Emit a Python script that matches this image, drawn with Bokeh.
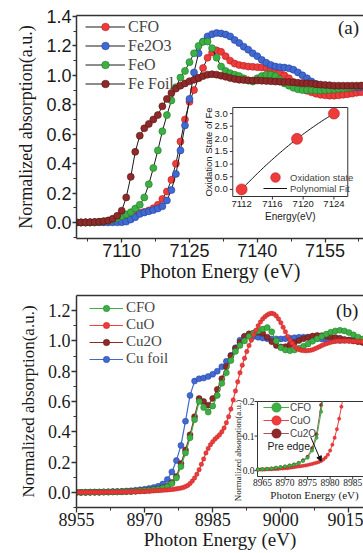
import math
import numpy as np
from bokeh.plotting import figure
from bokeh.layouts import column
from bokeh.core.properties import value
from bokeh.models import (FixedTicker, Range1d, Legend, LegendItem, LinearAxis,
                          Label, Arrow, NormalHead, PrintfTickFormatter)
from bokeh.embed import file_html
from bokeh.resources import INLINE

SERIF = "Liberation Serif"
SANS = "Liberation Sans"

# ---------------- Panel (a): Fe K-edge (1 eV grid from 7100 eV) ----------------
fe_start = 7100
fe_cfo = [0.000, 0.000, 0.000, 0.000, 0.001, 0.002, 0.003, 0.004, 0.006, 0.010,
          0.015, 0.022, 0.035, 0.055, 0.065, 0.072, 0.082, 0.097, 0.120, 0.160,
          0.210, 0.290, 0.400, 0.550, 0.700, 0.820, 0.900, 0.980, 1.050, 1.120,
          1.155, 1.170, 1.160, 1.130, 1.100, 1.080, 1.070, 1.065, 1.060, 1.058,
          1.056, 1.054, 1.050, 1.045, 1.035, 1.020, 1.000, 0.980, 0.955, 0.930,
          0.910, 0.895, 0.885, 0.875, 0.868, 0.864, 0.862, 0.862, 0.864, 0.868,
          0.872, 0.876, 0.882, 0.886]
fe_fe2o3 = [0.000, 0.000, 0.000, 0.000, 0.000, 0.001, 0.001, 0.001, 0.001, 0.001,
            0.002, 0.006, 0.020, 0.036, 0.058, 0.068, 0.076, 0.084, 0.095, 0.110,
            0.150, 0.220, 0.330, 0.490, 0.660, 0.840, 1.020, 1.150, 1.230, 1.265,
            1.280, 1.288, 1.285, 1.278, 1.265, 1.240, 1.220, 1.195, 1.175, 1.150,
            1.130, 1.105, 1.085, 1.070, 1.060, 1.056, 1.053, 1.048, 1.038, 1.020,
            1.000, 0.980, 0.958, 0.942, 0.932, 0.925, 0.920, 0.917, 0.915, 0.915,
            0.916, 0.917, 0.918, 0.920]
fe_feo = [0.000, 0.000, 0.000, 0.001, 0.002, 0.004, 0.008, 0.013, 0.020, 0.030,
          0.042, 0.055, 0.070, 0.095, 0.120, 0.170, 0.260, 0.370, 0.490, 0.620,
          0.730, 0.830, 0.920, 0.985, 1.030, 1.090, 1.150, 1.200, 1.228, 1.230,
          1.185, 1.120, 1.060, 1.030, 1.015, 1.005, 0.995, 0.980, 0.965, 0.958,
          0.980, 0.995, 1.005, 1.005, 0.995, 0.970, 0.945, 0.930, 0.915, 0.905,
          0.900, 0.900, 0.900, 0.898, 0.898, 0.900, 0.902, 0.905, 0.908, 0.910,
          0.915, 0.920, 0.925, 0.930]
fe_foil = [0.000, 0.000, 0.001, 0.002, 0.003, 0.005, 0.008, 0.013, 0.025, 0.045,
           0.080, 0.170, 0.310, 0.480, 0.590, 0.640, 0.670, 0.700, 0.730, 0.790,
           0.840, 0.880, 0.910, 0.930, 0.945, 0.960, 0.970, 0.983, 0.995, 1.005,
           1.008, 1.005, 0.998, 0.990, 0.982, 0.975, 0.970, 0.968, 0.966, 0.965,
           0.965, 0.963, 0.962, 0.960, 0.958, 0.957, 0.955, 0.955, 0.952, 0.950,
           0.948, 0.946, 0.944, 0.940, 0.937, 0.935, 0.933, 0.930, 0.930, 0.930,
           0.930, 0.930, 0.930, 0.930]
fe_names = ["CFO", "Fe2O3", "FeO", "Fe Foil"]
fe_x_ticks = [7110, 7125, 7140, 7155]
fe_x_minor = [7102.5, 7117.5, 7132.5, 7147.5, 7162.5]
fe_y_ticks = [0.0, 0.2, 0.4, 0.6, 0.8, 1.0, 1.2, 1.4]
fe_y_minor = [-0.1, 0.1, 0.3, 0.5, 0.7, 0.9, 1.1, 1.3]

# inset (a): oxidation state vs edge energy
ox_energy = [7112.0, 7119.2, 7124.0]
ox_state = [0.0, 2.0, 3.0]
ox_x_ticks = [7112, 7116, 7120, 7124]
ox_y_ticks = [0.0, 0.5, 1.0, 1.5, 2.0, 2.5, 3.0]
ox_xlim = (7110.85, 7125.8)
ox_ylim = (-0.28, 3.24)

# ---------------- Panel (b): Cu K-edge (1 eV grid from 8955 eV) ----------------
cu_start = 8955
cu_cfo = [0.000, 0.000, 0.000, 0.001, 0.001, 0.001, 0.002, 0.002, 0.003, 0.003,
          0.004, 0.005, 0.006, 0.008, 0.010, 0.012, 0.014, 0.017, 0.021, 0.028,
          0.037, 0.058, 0.095, 0.170, 0.260, 0.360, 0.480, 0.600, 0.560, 0.530,
          0.570, 0.640, 0.720, 0.790, 0.870, 0.930, 0.970, 1.000, 1.030, 1.050,
          1.065, 1.078, 1.088, 1.060, 1.000, 0.955, 0.940, 0.935, 0.940, 0.952,
          0.965, 0.980, 0.998, 1.015, 1.030, 1.045, 1.058, 1.066, 1.070, 1.066,
          1.055, 1.040, 1.025, 1.012]
cu_cu2o = [0.000, 0.000, 0.000, 0.001, 0.001, 0.001, 0.002, 0.002, 0.003, 0.003,
           0.004, 0.005, 0.006, 0.008, 0.010, 0.012, 0.015, 0.018, 0.022, 0.030,
           0.040, 0.065, 0.105, 0.190, 0.280, 0.380, 0.500, 0.620, 0.600, 0.575,
           0.620, 0.680, 0.750, 0.830, 0.900, 0.950, 0.990, 1.030, 1.047, 1.052,
           1.057, 1.050, 1.025, 0.995, 0.970, 0.960, 0.962, 0.975, 0.990, 1.003,
           1.015, 1.025, 1.032, 1.036, 1.035, 1.031, 1.027, 1.022, 1.017, 1.010,
           1.005, 1.000, 0.995, 0.990]
cu_foil = [0.000, 0.000, 0.001, 0.001, 0.002, 0.002, 0.003, 0.004, 0.005, 0.006,
           0.007, 0.009, 0.011, 0.014, 0.017, 0.021, 0.026, 0.032, 0.040, 0.055,
           0.085, 0.135, 0.210, 0.310, 0.470, 0.640, 0.735, 0.750, 0.755, 0.765,
           0.780, 0.800, 0.830, 0.865, 0.905, 0.955, 1.005, 1.030, 1.035, 1.030,
           1.024, 1.019, 1.015, 1.013, 1.013, 1.013, 1.015, 1.018, 1.021, 1.024,
           1.025, 1.023, 1.020, 1.016, 1.013, 1.009, 1.006, 1.004, 1.003, 1.004,
           1.006, 1.008, 1.010, 1.010]
# CuO measured on a 0.5 eV grid from 8955 eV
cuo_step = 0.5
cu_cuo = [0.000, 0.000, 0.000, 0.000, 0.000, 0.000, 0.000, 0.001, 0.001, 0.001,
          0.001, 0.001, 0.001, 0.002, 0.002, 0.002, 0.002, 0.002, 0.003, 0.003,
          0.003, 0.003, 0.004, 0.004, 0.004, 0.005, 0.005, 0.005, 0.006, 0.006,
          0.007, 0.007, 0.008, 0.009, 0.010, 0.011, 0.012, 0.013, 0.014, 0.015,
          0.016, 0.018, 0.019, 0.021, 0.023, 0.025, 0.028, 0.032, 0.038, 0.046,
          0.058, 0.075, 0.095, 0.120, 0.150, 0.185, 0.220, 0.260, 0.290, 0.315,
          0.335, 0.352, 0.366, 0.380, 0.400, 0.425, 0.460, 0.500, 0.550, 0.610,
          0.670, 0.730, 0.790, 0.840, 0.885, 0.930, 0.970, 1.005, 1.040, 1.070,
          1.100, 1.125, 1.145, 1.160, 1.172, 1.180, 1.182, 1.178, 1.165, 1.145,
          1.120, 1.090, 1.060, 1.030, 1.005, 0.985, 0.965, 0.952, 0.943, 0.938,
          0.936, 0.935, 0.936, 0.938, 0.942, 0.948, 0.955, 0.962, 0.969, 0.976,
          0.982, 0.987, 0.991, 0.995, 0.998, 1.000, 1.000, 1.000, 1.000, 1.000,
          0.999, 0.998, 0.998, 0.997, 0.997, 0.997, 0.996]
cu_x_ticks = [8955, 8970, 8985, 9000, 9015]
cu_x_minor = [8962.5, 8977.5, 8992.5, 9007.5]
cu_y_ticks = [0.0, 0.2, 0.4, 0.6, 0.8, 1.0, 1.2]
cu_y_minor = [-0.1, 0.1, 0.3, 0.5, 0.7, 0.9, 1.1]
ins_x_ticks = [8965, 8970, 8975, 8980, 8985]
ins_y_ticks = [0.0, 0.1, 0.2]
ins_xlim = (8963.9, 8987.4)
ins_ylim = (-0.017, 0.2)

fe_x = [fe_start + i for i in range(len(fe_cfo))]
cu_x = [cu_start + i for i in range(len(cu_cfo))]
cuo_x = [cu_start + cuo_step * i for i in range(len(cu_cuo))]

# ---------------- layout (page pixels: left, right, top, bottom) ----------------
A_FRAME = (71, 363, 15, 238)
A_INSET = (230, 347, 107, 196)
B_FRAME = (76, 363, 295, 507)
B_INSET = (257, 363, 401, 476)

RED, RED_E = "#EE3B3B", "#B32020"
BLUE, BLUE_E = "#4169D2", "#22409A"
GREEN, GREEN_E = "#3DB043", "#1F7A29"
DRED, DRED_E = "#8E2A2A", "#5A1212"
AX = "#333333"
TXT = "#1a1a1a"


def inset_ranges(xlim, ylim, frame, inset):
    fl, fr, ft, fb = frame
    il, ir, it, ib_ = inset
    ux = (xlim[1] - xlim[0]) / (ir - il)
    uy = (ylim[1] - ylim[0]) / (ib_ - it)
    xr = Range1d(xlim[0] - (il - fl) * ux, xlim[0] + (fr - il) * ux)
    yr = Range1d(ylim[0] - (fb - ib_) * uy, ylim[0] + (ib_ - ft) * uy)
    return xr, yr, ux, uy


def clip_polyline(xs, ys, x0, x1, y0, y1):
    pieces_x, pieces_y = [], []
    cx, cy = [], []
    for i in range(len(xs) - 1):
        ax_, ay_, bx_, by_ = xs[i], ys[i], xs[i + 1], ys[i + 1]
        dx, dy = bx_ - ax_, by_ - ay_
        t0, t1, ok = 0.0, 1.0, True
        for p, q in ((-dx, ax_ - x0), (dx, x1 - ax_), (-dy, ay_ - y0), (dy, y1 - ay_)):
            if p == 0:
                if q < 0:
                    ok = False
                    break
            else:
                r = q / p
                if p < 0:
                    if r > t1:
                        ok = False
                        break
                    t0 = max(t0, r)
                else:
                    if r < t0:
                        ok = False
                        break
                    t1 = min(t1, r)
        if not ok:
            if cx:
                pieces_x.append(cx)
                pieces_y.append(cy)
                cx, cy = [], []
            continue
        sx, sy = ax_ + t0 * dx, ay_ + t0 * dy
        ex, ey = ax_ + t1 * dx, ay_ + t1 * dy
        if not cx or abs(cx[-1] - sx) > 1e-9 or abs(cy[-1] - sy) > 1e-9:
            if cx:
                pieces_x.append(cx)
                pieces_y.append(cy)
            cx, cy = [sx], [sy]
        cx.append(ex)
        cy.append(ey)
        if t1 < 1.0:
            pieces_x.append(cx)
            pieces_y.append(cy)
            cx, cy = [], []
    if cx:
        pieces_x.append(cx)
        pieces_y.append(cy)
    return pieces_x, pieces_y


def inside(xs, ys, x0, x1, y0, y1):
    pts = [(x, y) for x, y in zip(xs, ys) if x0 <= x <= x1 and y0 <= y <= y1]
    return [p[0] for p in pts], [p[1] for p in pts]


def style_axis(ax, ticks, minor, font, size, fmt, tick_out=5, minor_out=3, standoff=1):
    ax.ticker = FixedTicker(ticks=ticks, minor_ticks=minor)
    ax.formatter = PrintfTickFormatter(format=fmt)
    ax.axis_line_color = AX
    ax.axis_line_width = 1.5
    ax.major_tick_line_color = AX
    ax.major_tick_line_width = 1.3
    ax.minor_tick_line_color = AX
    ax.minor_tick_line_width = 1.0
    ax.major_tick_in = 0
    ax.major_tick_out = tick_out
    ax.minor_tick_in = 0
    ax.minor_tick_out = minor_out
    ax.major_label_text_font = font
    ax.major_label_text_font_size = size
    ax.major_label_text_color = TXT
    ax.major_label_standoff = standoff


def style_label(ax, text, font, size, standoff):
    ax.axis_label = text
    ax.axis_label_text_font = font
    ax.axis_label_text_font_size = size
    ax.axis_label_text_font_style = "normal"
    ax.axis_label_text_color = TXT
    ax.axis_label_standoff = standoff


def top_line(p):
    top = LinearAxis(major_tick_out=0, major_tick_in=0, minor_tick_out=0, minor_tick_in=0,
                     major_label_text_font_size="0px", major_label_standoff=0,
                     axis_line_color=AX, axis_line_width=1.5)
    top.ticker = FixedTicker(ticks=[])
    p.add_layout(top, "above")


def single_legend(label, renderers, loc, gw, gh, font, size, standoff=3):
    return Legend(items=[LegendItem(label=label, renderers=renderers)], location=loc,
                  padding=0, spacing=0, glyph_width=gw, glyph_height=gh, label_height=gh,
                  label_standoff=standoff, label_text_font=font, label_text_font_size=size,
                  border_line_color=None, background_fill_alpha=0)


def draw_inset_axes(p, xn, yn, xlim, ylim, ux, uy, xticks, yticks, xfmt, yfmt, font, size,
                    x_lab_off, y_lab_off, y_lab_align="right"):
    p.quad(left=[xlim[0]], right=[xlim[1]], bottom=[ylim[0]], top=[ylim[1]],
           fill_color="white", line_color=AX, line_width=1, x_range_name=xn, y_range_name=yn)
    tick = 3
    p.segment(x0=xticks, y0=[ylim[0]] * len(xticks), x1=xticks, y1=[ylim[0] - tick * uy] * len(xticks),
              line_color=AX, line_width=1, x_range_name=xn, y_range_name=yn)
    p.segment(x0=[xlim[0]] * len(yticks), y0=yticks, x1=[xlim[0] - tick * ux] * len(yticks), y1=yticks,
              line_color=AX, line_width=1, x_range_name=xn, y_range_name=yn)
    p.text(x=xticks, y=[ylim[0]] * len(xticks), text=[xfmt % t for t in xticks],
           y_offset=x_lab_off, text_align="center", text_baseline="middle",
           text_font=value(font), text_font_size=value(size), text_color=TXT,
           x_range_name=xn, y_range_name=yn)
    p.text(x=[xlim[0]] * len(yticks), y=yticks, text=[yfmt % t for t in yticks],
           x_offset=y_lab_off, text_align=y_lab_align, text_baseline="middle",
           text_font=value(font), text_font_size=value(size), text_color=TXT,
           x_range_name=xn, y_range_name=yn)


# ================= Figure (a) =================
pa = figure(width=363, height=288, x_range=Range1d(7100, 7163.5), y_range=Range1d(-0.109, 1.407),
            output_backend="svg", toolbar_location=None,
            min_border_left=A_FRAME[0], min_border_right=0, min_border_top=A_FRAME[2],
            min_border_bottom=50)
pa.xgrid.visible = False
pa.ygrid.visible = False
pa.outline_line_color = None
style_axis(pa.xaxis[0], fe_x_ticks, fe_x_minor, SANS, "18px", "%d", tick_out=4, standoff=1)
style_axis(pa.yaxis[0], fe_y_ticks, fe_y_minor, SANS, "18px", "%.1f", tick_out=4, standoff=1)
style_label(pa.xaxis[0], "Photon Energy (eV)", SERIF, "20px", 0)
style_label(pa.yaxis[0], "Normalized absorption(a.u.)", SERIF, "18px", 7)
top_line(pa)

fe_series = [(fe_cfo, RED, RED_E), (fe_fe2o3, BLUE, BLUE_E), (fe_feo, GREEN, GREEN_E), (fe_foil, DRED, DRED_E)]
items_a = []
for name, (vals, c, ce) in zip(fe_names, fe_series):
    ln = pa.line(fe_x, vals, line_color=TXT, line_width=1)
    sc = pa.scatter(fe_x, vals, size=7, fill_color=c, line_color=ce, line_width=0.6)
    items_a.append(LegendItem(label=name, renderers=[ln, sc]))
pa.add_layout(Legend(items=items_a, location=(9, 145), padding=0, spacing=0, glyph_width=40,
                     glyph_height=19, label_height=19, label_standoff=3, label_text_font=SERIF,
                     label_text_font_size="16px", border_line_color=None, background_fill_alpha=0))
pa.add_layout(Label(x=7160.2, y=1.327, text="(a)", text_font=SERIF, text_font_size="19px",
                    text_align="center", text_baseline="middle", text_color=TXT))

# ---- inset (a), drawn in its own ranges inside the same frame ----
ia_xr, ia_yr, ia_ux, ia_uy = inset_ranges(ox_xlim, ox_ylim, A_FRAME, A_INSET)
pa.extra_x_ranges = {"ia_x": ia_xr}
pa.extra_y_ranges = {"ia_y": ia_yr}
draw_inset_axes(pa, "ia_x", "ia_y", ox_xlim, ox_ylim, ia_ux, ia_uy, ox_x_ticks, ox_y_ticks,
                "%d", "%.1f", SANS, "9.5px", 7, -5)
pa.text(x=[(ox_xlim[0] + ox_xlim[1]) / 2], y=[ox_ylim[0]], text=["Energy(eV)"], y_offset=20,
        text_align="center", text_baseline="middle", text_font=value(SANS), text_font_size=value("10px"),
        text_color=TXT, x_range_name="ia_x", y_range_name="ia_y")
pa.text(x=[ox_xlim[0]], y=[(ox_ylim[0] + ox_ylim[1]) / 2], text=["Oxidation State of Fe"], x_offset=-24,
        angle=math.pi / 2, text_align="center", text_baseline="middle", text_font=value(SANS),
        text_font_size=value("9.5px"), text_color=TXT, x_range_name="ia_x", y_range_name="ia_y")
coef = np.polyfit(ox_energy, ox_state, 2)
fit_x = np.linspace(min(ox_energy), max(ox_energy), 60)
fit_ln = pa.line(fit_x, np.polyval(coef, fit_x), line_color="#111111", line_width=1,
                 x_range_name="ia_x", y_range_name="ia_y")
ox_sc = pa.scatter(ox_energy, ox_state, size=11, fill_color=RED, line_color=RED_E, line_width=0.6,
                   x_range_name="ia_x", y_range_name="ia_y")
pa.add_layout(single_legend("Oxidation state", [ox_sc], (187, 49), 24, 24, SANS, "9.5px"))
pa.add_layout(single_legend("Polynomial Fit", [fit_ln], (187, 38), 24, 24, SANS, "9.5px"))

# ================= Figure (b) =================
pb = figure(width=363, height=265, x_range=Range1d(8955, 9018.2), y_range=Range1d(-0.1, 1.3),
            output_backend="svg", toolbar_location=None,
            min_border_left=B_FRAME[0], min_border_right=0, min_border_top=7, min_border_bottom=46)
pb.xgrid.visible = False
pb.ygrid.visible = False
pb.outline_line_color = None
style_axis(pb.xaxis[0], cu_x_ticks, cu_x_minor, SERIF, "18px", "%d", tick_out=5, standoff=0)
style_axis(pb.yaxis[0], cu_y_ticks, cu_y_minor, SERIF, "18px", "%.1f", tick_out=5, standoff=1)
style_label(pb.xaxis[0], "Photon Energy (eV)", SERIF, "19px", 0)
style_label(pb.yaxis[0], "Normalized absorption(a.u.)", SERIF, "17px", 7)
top_line(pb)

l_foil = pb.line(cu_x, cu_foil, line_color="#3D68D0", line_width=1.2)
s_foil = pb.scatter(cu_x, cu_foil, size=6, fill_color=BLUE, line_color=BLUE_E, line_width=0.5)
l_cu2o = pb.line(cu_x, cu_cu2o, line_color=DRED, line_width=1.2)
s_cu2o = pb.scatter(cu_x, cu_cu2o, size=6, fill_color=DRED, line_color=DRED_E, line_width=0.5)
l_cfo = pb.line(cu_x, cu_cfo, line_color=GREEN, line_width=1.2)
s_cfo = pb.scatter(cu_x, cu_cfo, size=6, fill_color=GREEN, line_color=GREEN_E, line_width=0.5)
l_cuo = pb.line(cuo_x, cu_cuo, line_color="#F04040", line_width=1.2)
s_cuo = pb.scatter(cuo_x, cu_cuo, size=4.5, fill_color=RED, line_color=RED_E, line_width=0.4)
pb.add_layout(Legend(items=[LegendItem(label="CFO", renderers=[l_cfo, s_cfo]),
                            LegendItem(label="CuO", renderers=[l_cuo, s_cuo]),
                            LegendItem(label="Cu2O", renderers=[l_cu2o, s_cu2o]),
                            LegendItem(label="Cu foil", renderers=[l_foil, s_foil])],
                     location=(13, 140), padding=0, spacing=0, glyph_width=34, glyph_height=16,
                     label_height=16, label_standoff=3, label_text_font=SERIF,
                     label_text_font_size="15px", border_line_color=None, background_fill_alpha=0))
pb.add_layout(Label(x=9014.6, y=1.2, text="(b)", text_font=SERIF, text_font_size="19px",
                    text_align="center", text_baseline="middle", text_color=TXT))

# ---- inset (b): pre-edge region ----
ib_xr, ib_yr, ib_ux, ib_uy = inset_ranges(ins_xlim, ins_ylim, B_FRAME, B_INSET)
pb.extra_x_ranges = {"ib_x": ib_xr}
pb.extra_y_ranges = {"ib_y": ib_yr}
draw_inset_axes(pb, "ib_x", "ib_y", ins_xlim, ins_ylim, ib_ux, ib_uy, ins_x_ticks, ins_y_ticks,
                "%d", "%.1f", SERIF, "9.5px", 6, -3)
pb.text(x=[ins_xlim[0]], y=[ins_ylim[0]], text=["Photon Energy (eV)"], x_offset=57, y_offset=18,
        text_align="center", text_baseline="middle", text_font=value(SERIF), text_font_size=value("11px"),
        text_color=TXT, x_range_name="ib_x", y_range_name="ib_y")
pb.text(x=[ins_xlim[0]], y=[ins_ylim[0]], text=["Normalized absorption(a.u.)"], x_offset=-20, y_offset=-26,
        angle=math.pi / 2, text_align="center", text_baseline="middle", text_font=value(SERIF),
        text_font_size=value("9px"), text_color=TXT, x_range_name="ib_x", y_range_name="ib_y")
box = (ins_xlim[0], ins_xlim[1], ins_ylim[0], ins_ylim[1])
inset_series = [(cuo_x, cu_cuo, "#F04040", RED, RED_E, 1.0),
                (cu_x, cu_cu2o, DRED, DRED, DRED_E, 0.8),
                (cu_x, cu_cfo, GREEN, GREEN, GREEN_E, 1.0)]
inset_r = []
for xs, ys, lc, fc, ec, lw in inset_series:
    mx, my = clip_polyline(xs, ys, *box)
    r_l = pb.multi_line(mx, my, line_color=lc, line_width=lw, x_range_name="ib_x", y_range_name="ib_y")
    px, py = inside(xs, ys, *box)
    r_s = pb.scatter(px, py, size=3.5, fill_color=fc, line_color=ec, line_width=0.3,
                     x_range_name="ib_x", y_range_name="ib_y")
    inset_r.append([r_l, r_s])
pb.add_layout(single_legend("CFO", inset_r[2], (187, 88), 26, 24, SANS, "10px", 1))
pb.add_layout(single_legend("CuO", inset_r[0], (187, 75), 26, 24, SANS, "10px", 1))
pb.add_layout(single_legend("Cu2O", inset_r[1], (187, 62), 26, 24, SANS, "10px", 1))
pb.add_layout(Label(x=8966.1, y=0.071, text="Pre edge", text_font=SANS, text_font_size="10.5px",
                    text_baseline="middle", text_color=TXT, x_range_name="ib_x", y_range_name="ib_y"))
pb.add_layout(Arrow(x_start=8975.7, y_start=0.097, x_end=8978.0, y_end=0.027, line_color="#111111",
                    line_width=1, end=NormalHead(size=5, fill_color="#111111", line_color="#111111"),
                    x_range_name="ib_x", y_range_name="ib_y"))

layout = column(pa, pb, spacing=0)

open("out.html", "w").write(file_html(layout, INLINE))
